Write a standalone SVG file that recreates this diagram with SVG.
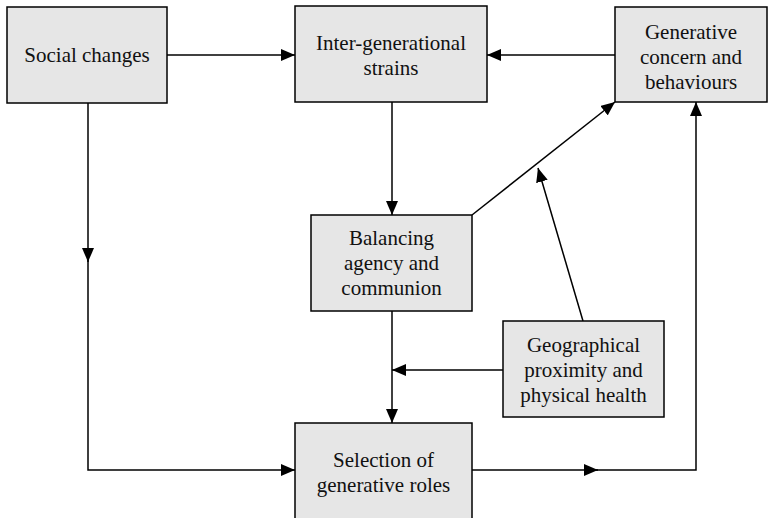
<svg xmlns="http://www.w3.org/2000/svg" width="769" height="518" viewBox="0 0 769 518">
<style>
.box{fill:#e6e6e6;stroke:#000;stroke-width:1.5}
.t{font-family:"Liberation Serif","Times New Roman",serif;font-size:21px;fill:#111;text-anchor:middle}
.c{fill:none;stroke:#000;stroke-width:1.5}
</style>
<defs>
<marker id="ah" viewBox="0 0 14 12" refX="14" refY="6" markerWidth="14" markerHeight="12" markerUnits="userSpaceOnUse" orient="auto">
<path d="M0,0 L14,6 L0,12 z" fill="#000"/>
</marker>
</defs>
<rect width="769" height="518" fill="#fff"/>
<g id="connectors">
<line class="c" x1="167" y1="55" x2="295" y2="55" marker-end="url(#ah)"/>
<line class="c" x1="615" y1="55" x2="487" y2="55" marker-end="url(#ah)"/>
<line class="c" x1="392" y1="102" x2="392" y2="215" marker-end="url(#ah)"/>
<line class="c" x1="472" y1="215" x2="615" y2="102" marker-end="url(#ah)"/>
<line class="c" x1="583" y1="321" x2="538" y2="168" marker-end="url(#ah)"/>
<line class="c" x1="392" y1="311" x2="392" y2="423" marker-end="url(#ah)"/>
<line class="c" x1="503" y1="370" x2="392" y2="370" marker-end="url(#ah)"/>
<line class="c" x1="88" y1="103" x2="88" y2="262" marker-end="url(#ah)"/>
<polyline class="c" points="88,260 88,470 295,470" marker-end="url(#ah)"/>
<line class="c" x1="472" y1="470" x2="598" y2="470" marker-end="url(#ah)"/>
<polyline class="c" points="596,470 696,470 696,102" marker-end="url(#ah)"/>
</g>
<g id="social">
<rect class="box" x="7" y="7" width="160" height="96"/>
<text class="t" x="87" y="62">Social changes</text>
</g>
<g id="inter">
<rect class="box" x="295" y="6" width="192" height="96"/>
<text class="t" x="391" y="50">Inter-generational</text>
<text class="t" x="391" y="75">strains</text>
</g>
<g id="generative">
<rect class="box" x="615" y="7" width="152" height="95"/>
<text class="t" x="691" y="39">Generative</text>
<text class="t" x="691" y="64">concern and</text>
<text class="t" x="691" y="89">behaviours</text>
</g>
<g id="balancing">
<rect class="box" x="311" y="215" width="161" height="96"/>
<text class="t" x="391.5" y="245">Balancing</text>
<text class="t" x="391.5" y="270">agency and</text>
<text class="t" x="391.5" y="295">communion</text>
</g>
<g id="geographical">
<rect class="box" x="503" y="321" width="161" height="96"/>
<text class="t" x="583.5" y="352">Geographical</text>
<text class="t" x="583.5" y="377">proximity and</text>
<text class="t" x="583.5" y="402">physical health</text>
</g>
<g id="selection">
<rect class="box" x="295" y="423" width="177" height="97"/>
<text class="t" x="383.5" y="467">Selection of</text>
<text class="t" x="383.5" y="492">generative roles</text>
</g>
</svg>
